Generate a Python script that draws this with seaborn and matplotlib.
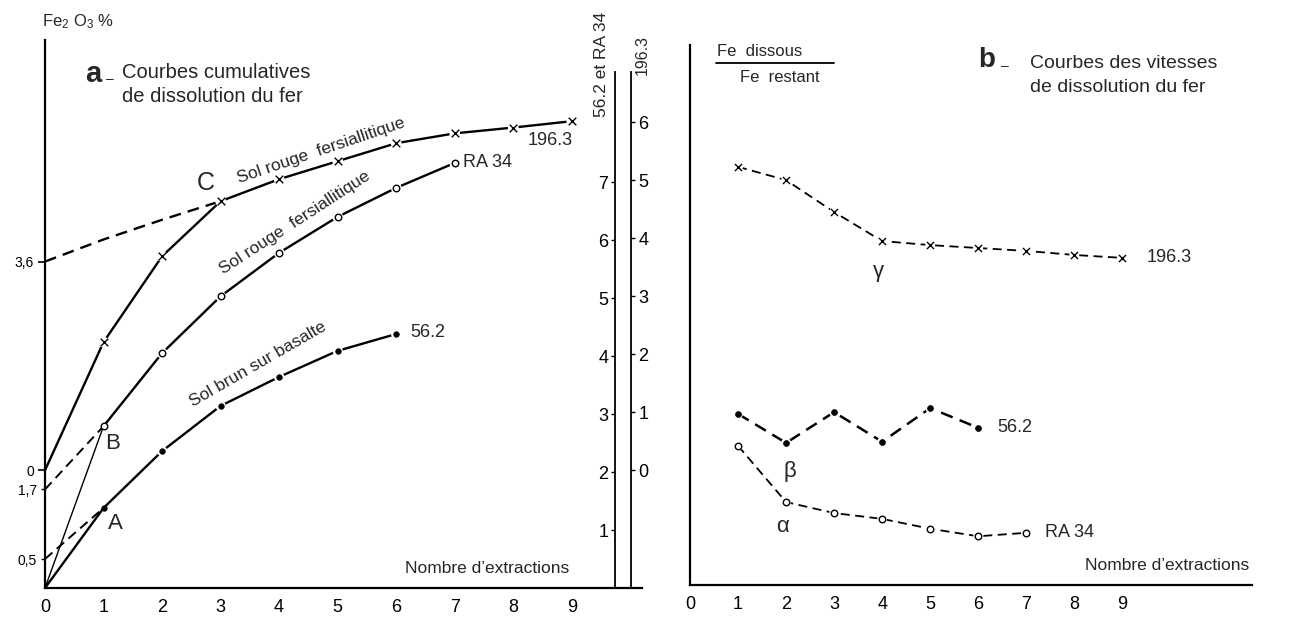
import matplotlib
matplotlib.use("Agg")
import matplotlib.pyplot as plt
from matplotlib.lines import Line2D
import seaborn as sns

sns.set_theme(style="white")
plt.rcParams['font.family'] = ['Liberation Sans', 'DejaVu Sans']
plt.rcParams['mathtext.default'] = 'regular'

# ---------------- Panel a : cumulative dissolution curves ----------------
ext_1963 = [0, 1, 2, 3, 4, 5, 6, 7, 8, 9]
cum_1963 = [0.0, 2.21, 3.69, 4.64, 5.02, 5.33, 5.64, 5.81, 5.91, 6.02]   # on the 196.3 scale
ext_1963_extrap = [0, 1, 2, 3]
cum_1963_extrap = [3.6, 3.98, 4.32, 4.64]

ext_ra34 = [1, 2, 3, 4, 5, 6, 7]
cum_ra34 = [2.79, 4.05, 5.03, 5.78, 6.40, 6.90, 7.33]                    # 56.2 et RA 34 scale
ext_ra34_extrap = [0, 1]
cum_ra34_extrap = [1.7, 2.79]

ext_562 = [0, 1, 2, 3, 4, 5, 6]
cum_562 = [0.0, 1.38, 2.36, 3.14, 3.64, 4.09, 4.38]
ext_562_extrap = [0, 1]
cum_562_extrap = [0.5, 1.38]

x_ticks = [0, 1, 2, 3, 4, 5, 6, 7, 8, 9]
left_ticks_main = [0.5, 1.7]
left_labels_main = ['0,5', '1,7']
left_ticks_1963 = [0, 3.6]
left_labels_1963 = ['0', '3,6']
ticks_scale_main = [1, 2, 3, 4, 5, 6, 7]
ticks_scale_1963 = [0, 1, 2, 3, 4, 5, 6]

# ---------------- Panel b : dissolution speed curves ----------------
ext_v1963 = [1, 2, 3, 4, 5, 6, 7, 8, 9]
v_1963 = [7.21, 6.98, 6.43, 5.93, 5.86, 5.81, 5.76, 5.69, 5.64]
ext_v562 = [1, 2, 3, 4, 5, 6]
v_562 = [2.95, 2.45, 2.98, 2.47, 3.05, 2.71]
ext_vra34 = [1, 2, 3, 4, 5, 6, 7]
v_ra34 = [2.40, 1.43, 1.24, 1.14, 0.97, 0.84, 0.90]

W, H = 1289, 617
fig = plt.figure(figsize=(W / 100, H / 100), dpi=100)
fig.patch.set_facecolor('white')

def fx(px):
    return px / W

def fy(py):
    return 1 - py / H

K = 'black'
FS_TICK = 13
FS_LAB = 12.5
DASH = (0, (5, 3))


def halo(axis, xs, ys, size=70):
    """white disc behind a marker so the line looks broken around it"""
    sns.scatterplot(x=xs, y=ys, ax=axis, marker='o', s=size, color='white',
                    edgecolor='none', linewidth=0, legend=False, zorder=3)


# ---------- panel a axes ----------
ax = fig.add_axes([fx(45), 1 - 588 / H, 597 / W, 548 / H])
ax.set_xlim(0, 10.2)
ax.set_ylim(0, 9.45)
ax.set_facecolor('none')

ax3 = ax.twinx()   # 196.3 scale
ax3.set_ylim(-2.03, 9.45 - 2.03)
ax2 = ax.twinx()   # 56.2 et RA 34 scale
ax2.set_ylim(0, 9.45)
ax4 = ax.twinx()   # left labels on 196.3 scale
ax4.set_ylim(-2.03, 9.45 - 2.03)

for a in (ax, ax2, ax3, ax4):
    for s in a.spines.values():
        s.set_visible(False)
        s.set_color(K)
    a.grid(False)

ax.spines['left'].set_visible(True)
ax.spines['bottom'].set_visible(True)
ax.spines['left'].set_linewidth(1.6)
ax.spines['bottom'].set_linewidth(1.6)
ax.set_xticks(x_ticks)
ax.set_xticklabels([str(v) for v in x_ticks], fontsize=FS_TICK)
ax.tick_params(axis='x', direction='out', length=4, width=1.2, colors=K, pad=4, labelsize=FS_TICK)
ax.set_yticks(left_ticks_main)
ax.set_yticklabels(left_labels_main, fontsize=10)
ax.tick_params(axis='y', direction='out', length=3, width=1, colors=K, pad=3, labelsize=10)

ax4.yaxis.tick_left()
ax4.set_yticks(left_ticks_1963)
ax4.set_yticklabels(left_labels_1963, fontsize=10)
ax4.tick_params(axis='y', direction='out', length=5, width=1.2, colors=K, pad=3, labelsize=10)

# scale 56.2 et RA 34
ax2.yaxis.tick_left()
ax2.spines['left'].set_visible(True)
ax2.spines['left'].set_position(('data', 9.74))
ax2.spines['left'].set_bounds(0, 8.9)
ax2.spines['left'].set_linewidth(1.3)
ax2.set_yticks(ticks_scale_main)
ax2.set_yticklabels([str(v) for v in ticks_scale_main], fontsize=FS_TICK)
ax2.tick_params(axis='y', direction='out', length=3, width=1, colors=K, pad=2, labelsize=FS_TICK)

# scale 196.3
ax3.yaxis.tick_right()
ax3.spines['right'].set_visible(True)
ax3.spines['right'].set_position(('data', 10.02))
ax3.spines['right'].set_bounds(-2.03, 8.9 - 2.03)
ax3.spines['right'].set_linewidth(1.3)
ax3.set_yticks(ticks_scale_1963)
ax3.set_yticklabels([str(v) for v in ticks_scale_1963], fontsize=FS_TICK)
ax3.tick_params(axis='y', direction='out', length=3, width=1, colors=K, pad=2, labelsize=FS_TICK)

# curves
sns.lineplot(x=ext_1963, y=cum_1963, ax=ax3, color=K, linewidth=1.7, legend=False)
sns.lineplot(x=ext_1963_extrap, y=cum_1963_extrap, ax=ax3, color=K, linewidth=1.7,
             linestyle=DASH, legend=False)
halo(ax3, ext_1963[1:], cum_1963[1:], 60)
sns.scatterplot(x=ext_1963[1:], y=cum_1963[1:], ax=ax3, marker='x', s=30, color=K,
                linewidth=1.0, legend=False, zorder=4)

sns.lineplot(x=ext_ra34, y=cum_ra34, ax=ax2, color=K, linewidth=1.7, legend=False)
sns.lineplot(x=ext_ra34_extrap, y=cum_ra34_extrap, ax=ax2, color=K, linewidth=1.4,
             linestyle=DASH, legend=False)
sns.lineplot(x=[0, ext_ra34[0]], y=[0, cum_ra34[0]], ax=ax2, color=K, linewidth=1.0, legend=False)
halo(ax2, ext_ra34[1:], cum_ra34[1:], 60)
sns.scatterplot(x=ext_ra34, y=cum_ra34, ax=ax2, marker='o', s=22, facecolor='white',
                edgecolor=K, linewidth=1.0, legend=False, zorder=4)

sns.lineplot(x=ext_562, y=cum_562, ax=ax2, color=K, linewidth=1.7, legend=False)
sns.lineplot(x=ext_562_extrap, y=cum_562_extrap, ax=ax2, color=K, linewidth=1.4,
             linestyle=DASH, legend=False)
halo(ax2, ext_562[2:], cum_562[2:], 55)
sns.scatterplot(x=ext_562[1:], y=cum_562[1:], ax=ax2, marker='o', s=16, color=K,
                edgecolor=K, linewidth=0.5, legend=False, zorder=4)

# curve labels panel a
ax2.text(2.74, 6.98, 'C', fontsize=18, ha='center', va='center')
ax2.text(1.16, 2.50, 'B', fontsize=16, ha='center', va='center')
ax2.text(1.20, 1.12, 'A', fontsize=16, ha='center', va='center')
ax2.text(8.25, 7.71, '196.3', fontsize=FS_TICK, ha='left', va='center')
ax2.text(7.15, 7.33, 'RA 34', fontsize=FS_TICK, ha='left', va='center')
ax2.text(6.24, 4.40, '56.2', fontsize=FS_TICK, ha='left', va='center')
ax2.text(8.95, 0.34, "Nombre d\u2019extractions", fontsize=FS_LAB, ha='right', va='center')
ax2.text(4.72, 7.55, 'Sol rouge  fersiallitique', fontsize=FS_LAB, ha='center', va='center',
         rotation=18.7, rotation_mode='anchor')
ax2.text(4.26, 6.30, 'Sol rouge  fersiallitique', fontsize=FS_LAB, ha='center', va='center',
         rotation=33, rotation_mode='anchor')
ax2.text(3.64, 3.85, 'Sol brun sur basalte', fontsize=FS_LAB, ha='center', va='center',
         rotation=30, rotation_mode='anchor')

for a in (ax, ax2, ax3, ax4):
    a.set_xlim(0, 10.2)
    a.set_xlabel('')
    a.set_ylabel('')

# titles panel a
fig.text(fx(42), fy(22), 'Fe$_2$ O$_3$ %', fontsize=12, ha='left', va='center')
fig.text(fx(85), fy(74), 'a', fontsize=21, fontweight='bold', ha='left', va='center')
fig.text(fx(106), fy(79), '\u2013', fontsize=10, ha='left', va='center')
fig.text(fx(122), fy(73), 'Courbes cumulatives', fontsize=14.5, ha='left', va='center')
fig.text(fx(122), fy(97), 'de dissolution du fer', fontsize=14.5, ha='left', va='center')
fig.text(fx(602), fy(64), '56.2 et RA 34', fontsize=FS_LAB, rotation=90, ha='center', va='center')
fig.text(fx(642), fy(55), '196.3', fontsize=11.5, rotation=90, ha='center', va='center')

# ---------- panel b axes ----------
bx = fig.add_axes([fx(690), 1 - 585 / H, 562 / W, 540 / H])
bx.set_facecolor('none')
bx.set_xlim(0, 11.7)
bx.set_ylim(0, 9.31)
bx.grid(False)
for k, s in bx.spines.items():
    s.set_visible(k in ('left', 'bottom'))
    s.set_color(K)
    s.set_linewidth(1.6)
bx.set_xticks(x_ticks)
bx.set_xticklabels([str(v) for v in x_ticks], fontsize=FS_TICK)
bx.tick_params(axis='x', direction='out', length=4, width=1.2, colors=K, pad=4, labelsize=FS_TICK)
bx.set_yticks([])

sns.lineplot(x=ext_v1963, y=v_1963, ax=bx, color=K, linewidth=1.3, linestyle=DASH,
             legend=False)
halo(bx, ext_v1963, v_1963, 50)
sns.scatterplot(x=ext_v1963, y=v_1963, ax=bx, marker='x', s=26, color=K, linewidth=1.0,
                legend=False, zorder=4)
sns.lineplot(x=ext_v562, y=v_562, ax=bx, color=K, linewidth=1.8, linestyle=DASH,
             legend=False)
halo(bx, ext_v562, v_562, 50)
sns.scatterplot(x=ext_v562, y=v_562, ax=bx, marker='o', s=18, color=K, edgecolor=K,
                linewidth=0.5, legend=False, zorder=4)
sns.lineplot(x=ext_vra34, y=v_ra34, ax=bx, color=K, linewidth=1.3, linestyle=DASH,
             legend=False)
halo(bx, ext_vra34, v_ra34, 50)
sns.scatterplot(x=ext_vra34, y=v_ra34, ax=bx, marker='o', s=22, facecolor='white',
                edgecolor=K, linewidth=1.0, legend=False, zorder=4)
bx.set_xlabel('')
bx.set_ylabel('')

bx.text(9.5, v_1963[-1], '196.3', fontsize=FS_TICK, ha='left', va='center')
bx.text(6.4, v_562[-1], '56.2', fontsize=FS_TICK, ha='left', va='center')
bx.text(7.4, v_ra34[-1], 'RA 34', fontsize=FS_TICK, ha='left', va='center')
bx.text(3.92, 5.40, '\u03b3', fontsize=16, ha='center', va='center')
bx.text(2.08, 1.95, '\u03b2', fontsize=16, ha='center', va='center')
bx.text(1.92, 1.00, '\u03b1', fontsize=16, ha='center', va='center')
bx.text(11.65, 0.34, "Nombre d\u2019extractions", fontsize=FS_LAB, ha='right', va='center')

fig.text(fx(717), fy(52), 'Fe  dissous', fontsize=12, ha='left', va='center')
fig.add_artist(Line2D([fx(716), fx(834)], [fy(63), fy(63)], color=K, linewidth=1.3))
fig.text(fx(740), fy(77), 'Fe  restant', fontsize=12, ha='left', va='center')
fig.text(fx(978), fy(60), 'b', fontsize=20, fontweight='bold', ha='left', va='center')
fig.text(fx(1001), fy(66), '\u2013', fontsize=10, ha='left', va='center')
fig.text(fx(1030), fy(63), 'Courbes des vitesses', fontsize=14, ha='left', va='center')
fig.text(fx(1030), fy(87), 'de dissolution du fer', fontsize=14, ha='left', va='center')

fig.savefig('out.png', dpi=100, facecolor='white')
